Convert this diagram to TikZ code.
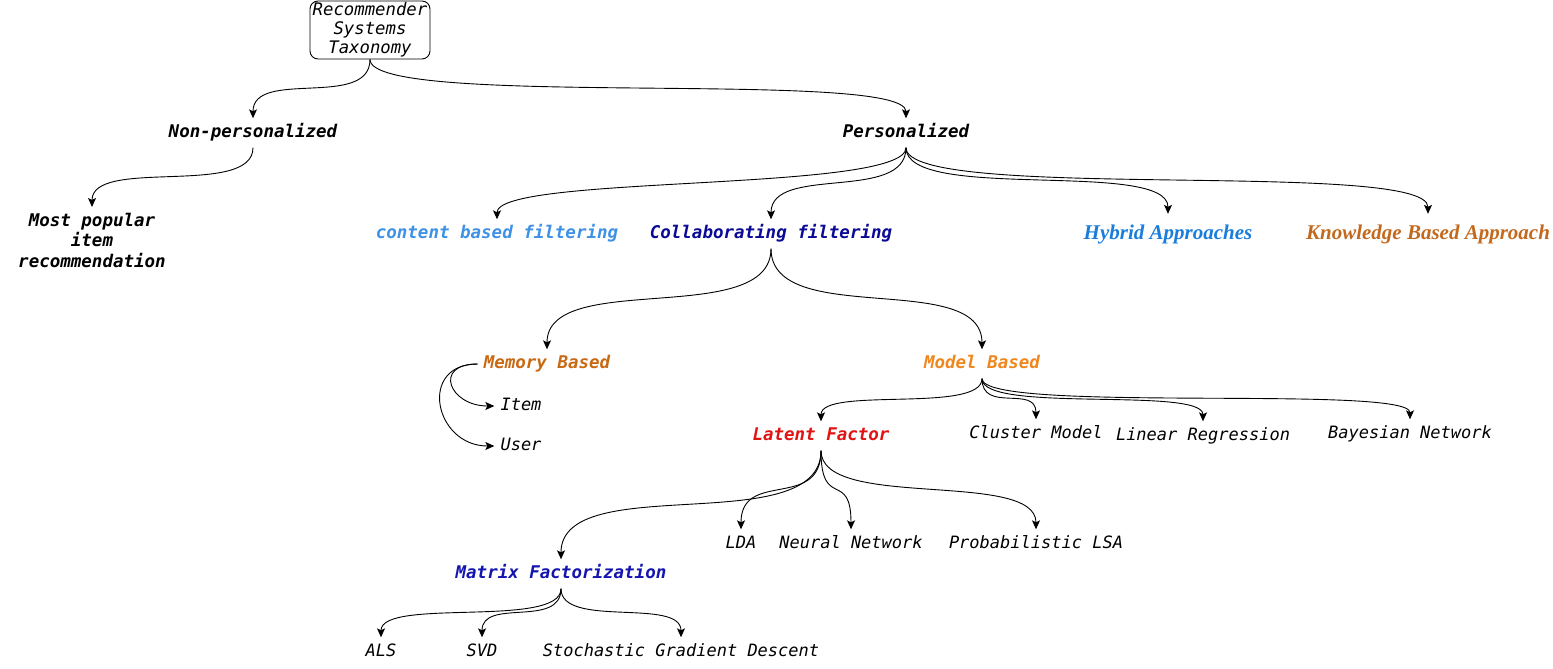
\documentclass[tikz,border=0pt]{standalone}
\usepackage{fontspec}
\setmonofont{DejaVu Sans Mono}
\newfontfamily\gserif{Liberation Serif}
\usepackage{xcolor}
\usepackage{tikz}
\usetikzlibrary{arrows.meta}

\definecolor{contentblue}{RGB}{62,145,228}
\definecolor{collabblue}{RGB}{10,10,150}
\definecolor{hybridblue}{RGB}{25,125,220}
\definecolor{knowbrown}{RGB}{195,105,30}
\definecolor{memorange}{RGB}{200,105,20}
\definecolor{modelorange}{RGB}{240,135,30}
\definecolor{latentred}{RGB}{225,20,20}
\definecolor{matrixblue}{RGB}{20,20,175}

\tikzset{
    leaf/.style={font=\ttfamily\itshape\fontsize{17}{20}\selectfont, text height=13pt, text depth=4pt, inner sep=6pt},
    head/.style={leaf, font=\ttfamily\bfseries\itshape\fontsize{17.5}{20.5}\selectfont},
    approach/.style={font=\gserif\bfseries\itshape\fontsize{21}{24}\selectfont, text height=15pt, text depth=5pt, inner xsep=0pt, inner ysep=10pt},
    arr/.style={-{Stealth[length=9pt,width=8pt,inset=2pt]}, line width=0.9pt}
}

\begin{document}
\begin{tikzpicture}[x=1pt, y=-1pt]
    \useasboundingbox (0,0) rectangle (1553,669);

    % top levels
    \node[draw, rounded corners=8pt, minimum width=120pt, minimum height=58pt, inner sep=1pt, align=center, line width=0.9pt,
          font=\ttfamily\itshape\fontsize{17.3}{19}\selectfont] (root) at (370,30) {Recommender\\Systems\\Taxonomy};
    \node[head] (nonp) at (253,133) {Non-personalized};
    \node[head] (pers) at (906,133) {Personalized};
    \node[anchor=north, inner sep=6pt, align=center, font=\ttfamily\bfseries\itshape\fontsize{17.5}{20.5}\selectfont] (popular) at (92,207) {Most popular\\item\\recommendation};

    % personalized
    \node[head, text=contentblue] (content) at (497,234) {content based filtering};
    \node[head, text=collabblue] (collab) at (771,234) {Collaborating filtering};
    \node[approach, text=hybridblue] (hybrid) at (1168,234) {Hybrid Approaches};
    \node[approach, text=knowbrown] (know) at (1428,234) {Knowledge Based Approach};

    % collaborating filtering
    \node[head, text=memorange] (mem) at (547,364) {Memory Based};
    \node[head, text=modelorange] (model) at (982,364) {Model Based};
    \node[leaf] (item) at (521,406) {Item};
    \node[leaf] (user) at (521,446) {User};
    \node[head, text=latentred] (latent) at (821,436) {Latent Factor};
    \node[leaf] (cluster) at (1036,434) {Cluster Model};
    \node[leaf] (linear) at (1203,436) {Linear Regression};
    \node[leaf] (bayes) at (1410,434) {Bayesian Network};

    % latent factor
    \node[leaf] (lda) at (741,544) {LDA};
    \node[leaf] (neural) at (851,544) {Neural Network};
    \node[leaf] (plsa) at (1036,544) {Probabilistic LSA};
    \node[head, text=matrixblue] (matrix) at (561,574) {Matrix Factorization};
    \node[leaf] (als) at (381,652) {ALS};
    \node[leaf] (svd) at (482,652) {SVD};
    \node[leaf] (sgd) at (681,652) {Stochastic Gradient Descent};

    % connectors
    \draw[arr] (root.south) .. controls +(0,50) and +(0,-50) .. (nonp.north);
    \draw[arr] (root.south) .. controls +(0,50) and +(0,-50) .. (pers.north);
    \draw[arr] (nonp.south) .. controls +(0,50) and +(0,-50) .. (popular.north);

    \draw[arr] (pers.south) .. controls +(0,45) and +(0,-45) .. (content.north);
    \draw[arr] (pers.south) .. controls +(0,55) and +(0,-55) .. (collab.north);
    \draw[arr] (pers.south) .. controls +(0,55) and +(0,-55) .. (hybrid.north);
    \draw[arr] (pers.south) .. controls +(0,55) and +(0,-55) .. (know.north);

    \draw[arr] (collab.south) .. controls +(0,80) and +(0,-80) .. (mem.north);
    \draw[arr] (collab.south) .. controls +(0,80) and +(0,-80) .. (model.north);

    \draw[arr] (mem.west) .. controls +(-45,0) and +(-45,0) .. (item.west);
    \draw[arr] (mem.west) .. controls +(-60,0) and +(-60,0) .. (user.west);

    \draw[arr] (model.south) .. controls +(0,35) and +(0,-35) .. (latent.north);
    \draw[arr] (model.south) .. controls +(0,35) and +(0,-35) .. (cluster.north);
    \draw[arr] (model.south) .. controls +(0,35) and +(0,-35) .. (linear.north);
    \draw[arr] (model.south) .. controls +(0,35) and +(0,-35) .. (bayes.north);

    \draw[arr] (latent.south) .. controls +(0,90) and +(0,-90) .. (matrix.north);
    \draw[arr] (latent.south) .. controls +(0,60) and +(0,-60) .. (lda.north);
    \draw[arr] (latent.south) .. controls +(0,60) and +(0,-60) .. (neural.north);
    \draw[arr] (latent.south) .. controls +(0,60) and +(0,-60) .. (plsa.north);

    \draw[arr] (matrix.south) .. controls +(0,40) and +(0,-40) .. (als.north);
    \draw[arr] (matrix.south) .. controls +(0,40) and +(0,-40) .. (svd.north);
    \draw[arr] (matrix.south) .. controls +(0,40) and +(0,-40) .. (sgd.north);
\end{tikzpicture}
\end{document}
